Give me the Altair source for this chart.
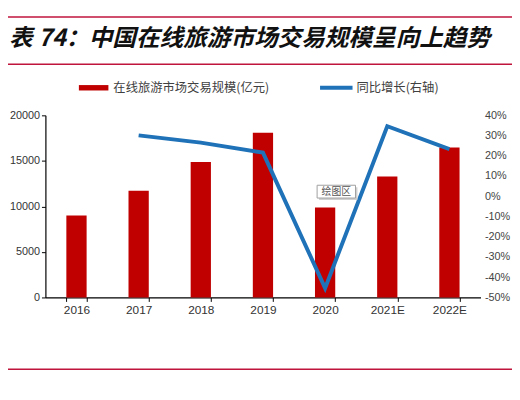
import altair as alt
import pandas as pd

# ---- data ----
years = ["2016", "2017", "2018", "2019", "2020", "2021E", "2022E"]
market_size = [8990, 11730, 14870, 18080, 9890, 13290, 16460]      # 亿元
yoy_growth = [None, 30.1, 26.5, 21.6, -45.4, 34.6, 23.3]           # %

left_ticks = [0, 5000, 10000, 15000, 20000]
right_ticks = [-50, -40, -30, -20, -10, 0, 10, 20, 30, 40]

title_prefix = "表 74："
title_main = "中国在线旅游市场交易规模呈向上趋势"
legend_bar = "在线旅游市场交易规模(亿元)"
legend_line = "同比增长(右轴)"
hover_label = "绘图区"

df = pd.DataFrame({"year": years, "size": market_size, "growth": yoy_growth})
one = pd.DataFrame({"k": [0]})

W, H = 442, 185
RED = "#C00000"
BLUE = "#1F72B8"
FRAME = "#C0143C"
NUM_FONT = "Liberation Sans"
CJK = "Noto Sans CJK SC"

x_enc = alt.X(
    "year:N", sort=years,
    scale=alt.Scale(paddingInner=0.674, paddingOuter=0.337),
    axis=alt.Axis(title=None, labelAngle=0, tickBand="extent", tickSize=4,
                  tickColor="#000", domainColor="#000", domainWidth=1.2,
                  labelFont=NUM_FONT, labelFontSize=12, labelColor="#333",
                  labelPadding=3),
)

bars = alt.Chart(df).mark_bar(color=RED).encode(
    x=x_enc,
    y=alt.Y("size:Q", scale=alt.Scale(domain=[0, 20000], nice=False),
            axis=alt.Axis(title=None, values=left_ticks, format="d", grid=False,
                          tickSize=4, tickColor="#000", domainColor="#000",
                          domainWidth=1.2, labelFont=NUM_FONT, labelFontSize=11,
                          labelColor="#333", labelPadding=2)),
)

line = alt.Chart(df).mark_line(color=BLUE, strokeWidth=4, strokeJoin="miter").encode(
    x=alt.X("year:N", sort=years),
    y=alt.Y("growth:Q", scale=alt.Scale(domain=[-50, 40], nice=False),
            axis=alt.Axis(title=None, orient="right", values=right_ticks, grid=False,
                          domain=False, ticks=False, labelPadding=4,
                          labelExpr="datum.value + '%'",
                          labelFont=NUM_FONT, labelFontSize=11, labelColor="#444")),
)

base = alt.Chart(one)

def hrule(y, color, width, x0=-38, x1=474):
    return base.mark_rule(color=color, strokeWidth=width).encode(
        x=alt.value(x0), x2=alt.value(x1), y=alt.value(y))

top1 = hrule(-100, FRAME, 1.5)
top2 = hrule(-52, FRAME, 1.5)
bottom = hrule(258, FRAME, 1.5)

t_prefix = base.mark_text(align="left", baseline="middle", font=CJK, fontSize=24,
                          fontWeight="bold", fontStyle="italic", color="#111").encode(
    x=alt.value(-37), y=alt.value(-77), text=alt.value(title_prefix))
t_main = base.mark_text(align="left", baseline="middle", font=CJK, fontSize=24,
                        fontWeight="bold", fontStyle="italic", color="#111").encode(
    x=alt.value(44), y=alt.value(-77), text=alt.value(title_main))

leg_r = hrule(-28, RED, 5.5, 34, 64)
leg_b = hrule(-28, BLUE, 4, 279, 312)
leg_rt = base.mark_text(align="left", baseline="middle", font=CJK, fontSize=12.5,
                        color="#404040").encode(
    x=alt.value(69), y=alt.value(-28), text=alt.value(legend_bar))
leg_bt = base.mark_text(align="left", baseline="middle", font=CJK, fontSize=12.5,
                        color="#404040").encode(
    x=alt.value(316), y=alt.value(-28), text=alt.value(legend_line))

box_shadow = base.mark_rect(fill="#D0D0D0").encode(
    x=alt.value(278), x2=alt.value(317), y=alt.value(73), y2=alt.value(86))
box = base.mark_rect(fill="white", stroke="#A0A0A0", strokeWidth=1).encode(
    x=alt.value(276), x2=alt.value(315), y=alt.value(71), y2=alt.value(84))
box_t = base.mark_text(align="center", baseline="middle", font=CJK, fontSize=10,
                       color="#555").encode(
    x=alt.value(295.5), y=alt.value(77.5), text=alt.value(hover_label))

chart = alt.layer(
    bars, line, top1, top2, bottom, t_prefix, t_main,
    leg_r, leg_b, leg_rt, leg_bt, box_shadow, box, box_t,
).resolve_scale(y="independent").properties(
    width=W, height=H,
    autosize=alt.AutoSizeParams(type="none"),
    padding={"left": 38, "right": 32, "top": 106, "bottom": 93},
    background="white",
).configure_view(stroke=None)

chart.save("out.html", embed_options={"renderer": "svg", "actions": False})
